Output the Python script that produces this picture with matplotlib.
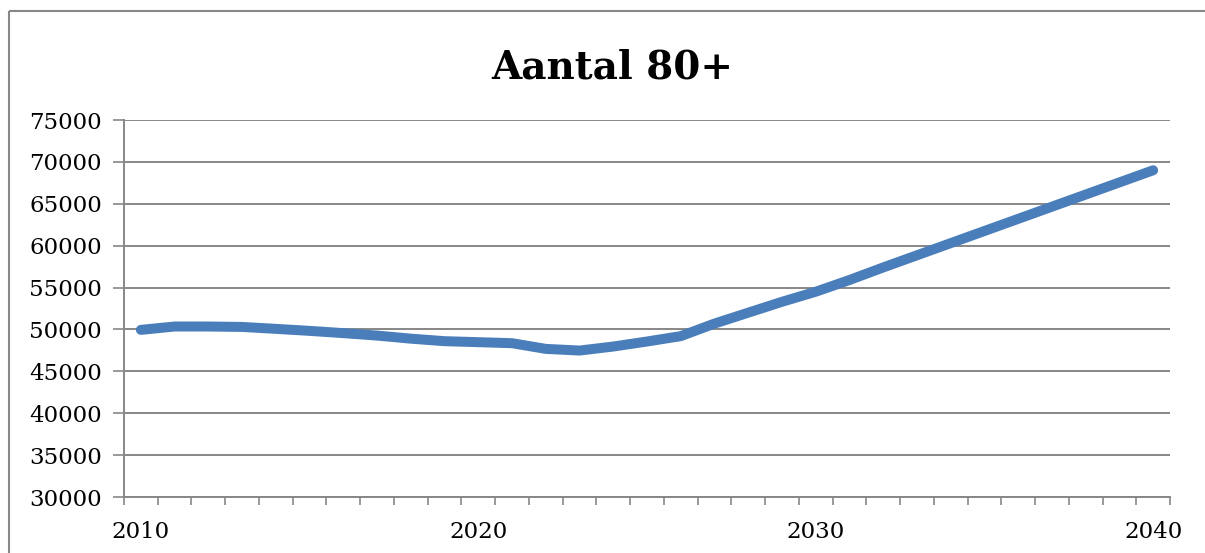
import matplotlib.pyplot as plt
from matplotlib.lines import Line2D
from matplotlib.ticker import FixedLocator

years = list(range(2010, 2041))
aantal = [49950, 50350, 50350, 50300, 50070, 49830, 49560, 49270, 48900, 48600,
          48480, 48360, 47680, 47480, 47960, 48560, 49200, 50700, 52000, 53300,
          54500, 55900, 57400, 58850, 60300, 61750, 63200, 64650, 66100, 67550,
          69000]
label_years = [2010, 2020, 2030, 2040]
y_ticks = list(range(30000, 75001, 5000))

plt.rcParams['font.family'] = ['DejaVu Serif']
grey = '#878787'

fig = plt.figure(figsize=(12.05, 5.53), dpi=100)
ax = fig.add_axes([124/1205, 1-497/553, (1170-124)/1205, (497-120)/553])

x = [y - years[0] for y in years]
ax.plot(x, aantal, color='#4a7ebb', lw=7.2, solid_capstyle='round', solid_joinstyle='round', zorder=3)

ax.set_xlim(-0.5, len(years) - 0.5)
ax.set_ylim(30000, 75000)

ax.set_yticks(y_ticks)
ax.set_yticklabels([str(v) for v in y_ticks])
ax.yaxis.grid(True, color=grey, lw=1.4)
ax.tick_params(axis='y', length=8, width=1.2, color=grey, pad=8, labelsize=16.5)

ax.set_xticks([y - years[0] for y in label_years])
ax.set_xticklabels([str(y) for y in label_years])
ax.xaxis.set_minor_locator(FixedLocator([i - 0.5 for i in range(len(years) + 1)]))
ax.tick_params(axis='x', which='major', length=0, pad=17, labelsize=16.5)
ax.tick_params(axis='x', which='minor', length=6, width=1.2, color=grey)

for s in ['top', 'right']:
    ax.spines[s].set_visible(False)
for s in ['left', 'bottom']:
    ax.spines[s].set_color(grey)
    ax.spines[s].set_linewidth(1.4)

fig.text(612/1205, 1-79/553, 'Aantal 80+', ha='center', va='baseline',
         fontsize=28, fontweight='bold')

# rand van het grafiekgebied
fig.add_artist(Line2D([9/1205, 9/1205], [0, 1-11/553], color=grey, lw=1.5,
                      solid_capstyle='butt', transform=fig.transFigure))
fig.add_artist(Line2D([9/1205, 1.01], [1-11/553, 1-11/553], color=grey, lw=1.5,
                      solid_capstyle='butt', transform=fig.transFigure))

fig.savefig('out.png', dpi=100)
